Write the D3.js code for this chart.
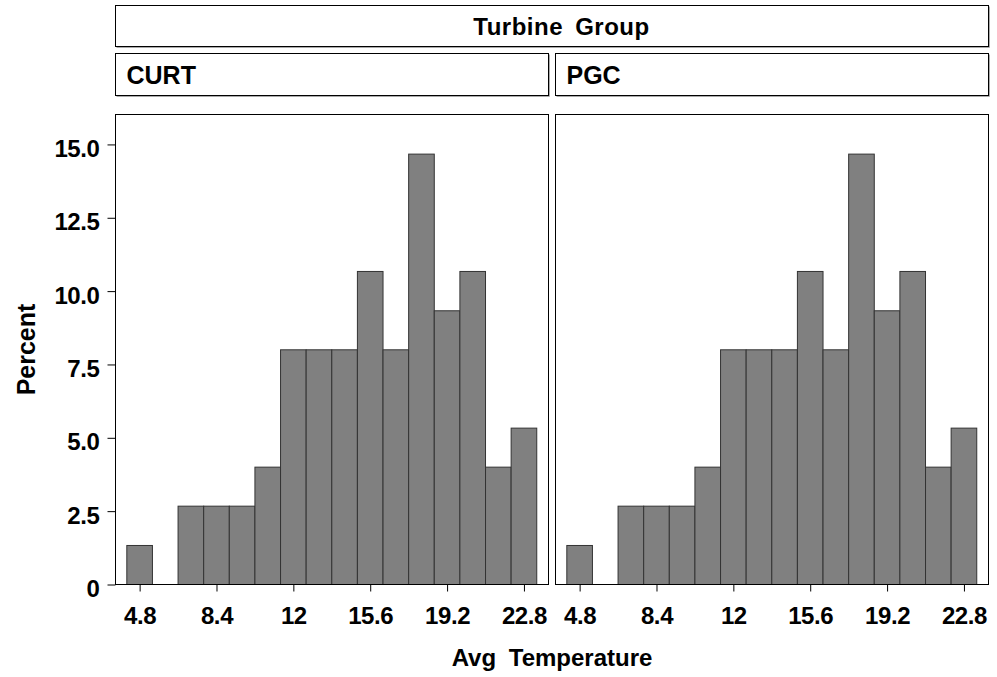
<!DOCTYPE html>
<html>
<head>
<meta charset="utf-8">
<script src="https://cdn.jsdelivr.net/npm/d3@7"></script>
<style>
    body { margin: 0; background: #fff; }
    text { font-family: "Liberation Sans", Arial, sans-serif; font-weight: bold; fill: #000; }
</style>
</head>
<body>
<svg id="chart" width="997" height="677"></svg>
<script>
// histogram bins (midpoints), width 1.2
var BIN_WIDTH = 1.2;
var binMids = [4.8, 6.0, 7.2, 8.4, 9.6, 10.8, 12.0, 13.2, 14.4, 15.6, 16.8, 18.0, 19.2, 20.4, 21.6, 22.8];
var curtPercent = [1.33, 0, 2.67, 2.67, 2.67, 4.0, 8.0, 8.0, 8.0, 10.67, 8.0, 14.67, 9.33, 10.67, 4.0, 5.33];
var pgcPercent = [1.33, 0, 2.67, 2.67, 2.67, 4.0, 8.0, 8.0, 8.0, 10.67, 8.0, 14.67, 9.33, 10.67, 4.0, 5.33];
var groups = ['CURT', 'PGC'];
var xTicks = [4.8, 8.4, 12, 15.6, 19.2, 22.8];
var yTicks = [0, 2.5, 5, 7.5, 10, 12.5, 15];

var panelData = [curtPercent, pgcPercent];

var svg = d3.select('#chart');

var left = 115.5, panelW = 433, gap = 7;
var plotTop = 114.5, plotBottom = 584.5;

var y = d3.scaleLinear().domain([0, 16.02]).range([plotBottom, plotTop]);

// header box with the light grey shadow line on bottom / right
function headerBox(g, x, yy, w, h) {
    g.append('path')
        .attr('d', 'M' + (x + 1) + ',' + (yy + h + 1) + 'H' + (x + w + 1) + 'V' + (yy + 1))
        .attr('fill', 'none').attr('stroke', '#aaa');
    g.append('rect')
        .attr('x', x).attr('y', yy)
        .attr('width', w).attr('height', h)
        .attr('fill', '#fff').attr('stroke', '#000');
}

headerBox(svg, left, 5.5, panelW * 2 + gap, 41);
// the original title sits a little right of the centre
svg.append('text')
    .attr('x', 561.5).attr('y', 34.5)
    .attr('text-anchor', 'middle')
    .style('font-size', '24px').style('letter-spacing', '0.5px').style('word-spacing', '5px')
    .text('Turbine Group');

groups.forEach(function(name, i) {
    var x0 = left + i * (panelW + gap);
    var g = svg.append('g').attr('transform', 'translate(' + x0 + ',0)');

    var x = d3.scaleLinear().domain([3.67, 23.95]).range([0, panelW]);

    // strip label
    headerBox(g, 0, 53.5, panelW, 42);
    g.append('text')
        .attr('x', 11).attr('y', 83.5)
        .style('font-size', '25px')
        .text(name);

    var bins = binMids.map(function(m, k) { return { mid: m, pct: panelData[i][k] }; });

    g.selectAll('rect.bar')
        .data(bins.filter(function(d) { return d.pct > 0; }))
        .enter().append('rect')
        .attr('class', 'bar')
        .attr('x', function(d) { return x(d.mid - BIN_WIDTH / 2); })
        .attr('width', function(d) { return x(d.mid + BIN_WIDTH / 2) - x(d.mid - BIN_WIDTH / 2); })
        .attr('y', function(d) { return y(d.pct); })
        .attr('height', function(d) { return y(0) - y(d.pct); })
        .attr('fill', '#808080')
        .attr('stroke', '#333')
        .attr('stroke-width', 1);

    // panel frame
    g.append('rect')
        .attr('x', 0).attr('y', plotTop)
        .attr('width', panelW).attr('height', plotBottom - plotTop)
        .attr('fill', 'none').attr('stroke', '#000');

    var xAxis = g.append('g')
        .attr('transform', 'translate(0,' + plotBottom + ')')
        .call(d3.axisBottom(x).tickValues(xTicks).tickSize(7).tickPadding(15)
            .tickFormat(function(d) { return String(d); }));
    xAxis.select('.domain').remove();
    xAxis.selectAll('line').attr('stroke', '#000');
    xAxis.selectAll('text')
        .attr('font-family', null)
        .style('font-size', '24px').style('letter-spacing', '-0.4px');

    if (i === 0) {
        var yAxis = g.append('g')
            .call(d3.axisLeft(y).tickValues(yTicks).tickSize(8).tickPadding(8)
                .tickFormat(function(d) { return d === 0 ? '0' : d3.format('.1f')(d); }));
        yAxis.select('.domain').remove();
        yAxis.selectAll('line').attr('stroke', '#000');
        yAxis.selectAll('text')
            .attr('font-family', null)
            .attr('dy', '0.5em')
            .style('font-size', '24px').style('letter-spacing', '-0.4px');
    }
});

// axis titles
svg.append('text')
    .attr('x', left + panelW + gap / 2).attr('y', 666)
    .attr('text-anchor', 'middle')
    .style('font-size', '24px').style('word-spacing', '6px')
    .text('Avg Temperature');

svg.append('text')
    .attr('transform', 'translate(35,' + ((plotTop + plotBottom) / 2) + ') rotate(-90)')
    .attr('text-anchor', 'middle')
    .style('font-size', '25px')
    .text('Percent');
</script>
</body>
</html>
